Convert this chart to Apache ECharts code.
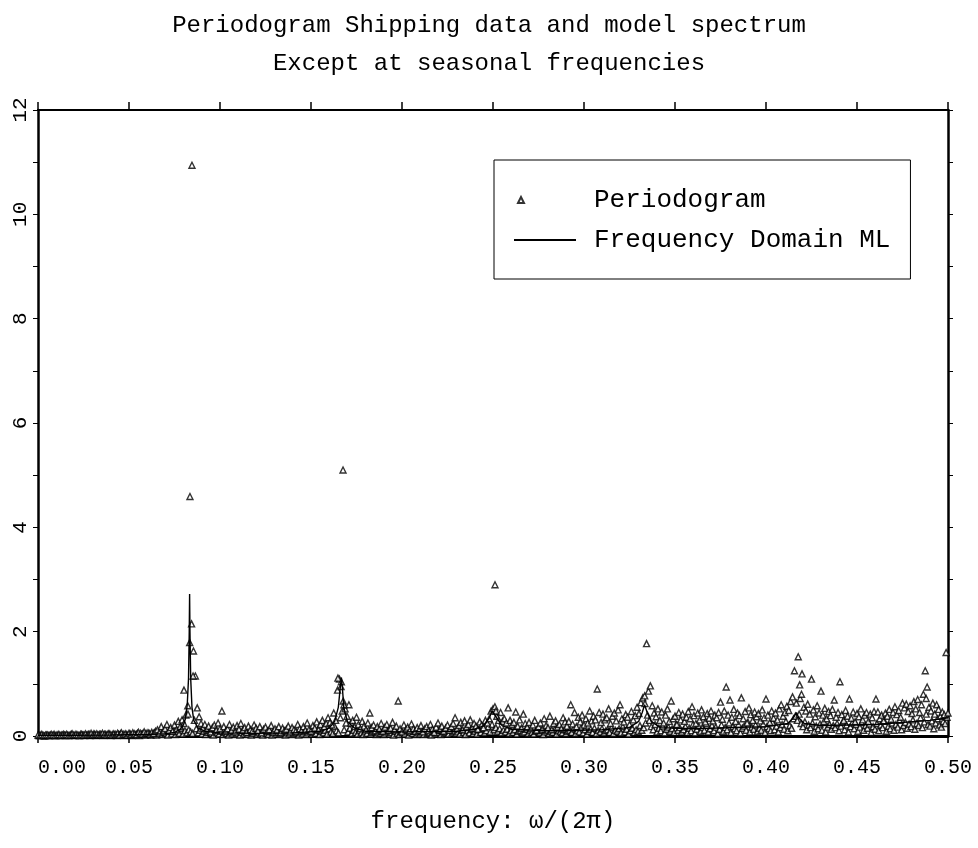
<!DOCTYPE html>
<html>
<head>
<meta charset="utf-8">
<script src="https://cdn.jsdelivr.net/npm/echarts@6/dist/echarts.min.js"></script>
<style>
  html, body { margin: 0; padding: 0; background: #fff; }
  #chart { width: 978px; height: 848px; }
</style>
</head>
<body>
<div id="chart"></div>
<script>
// periodogram on grid f = i/960 (upper points)
var periodogramA = [
  0.02,0.01,0.03,0.01,0.02,0.02,0.01,0.03,0.02,0.01,0.02,0.03,0.01,0.02,0.02,0.03,0.01,0.02,0.04,0.02,
  0.03,0.02,0.01,0.03,0.02,0.04,0.02,0.03,0.05,0.02,0.03,0.04,0.02,0.03,0.05,0.03,0.02,0.04,0.03,0.02,
  0.04,0.03,0.05,0.02,0.06,0.03,0.04,0.02,0.05,0.03,0.06,0.04,0.03,0.07,0.05,0.04,0.08,0.05,0.06,0.04,
  0.07,0.05,0.09,0.12,0.06,0.18,0.08,0.14,0.22,0.10,0.16,0.09,0.21,0.12,0.28,0.18,0.31,0.24,0.40,0.58,
  1.79,2.15,1.63,1.15,0.54,0.37,0.24,0.15,0.22,0.12,0.19,0.08,0.16,0.21,0.11,0.25,0.14,0.48,0.18,0.09,
  0.14,0.22,0.10,0.17,0.08,0.20,0.13,0.24,0.11,0.16,0.07,0.19,0.12,0.09,0.21,0.15,0.10,0.18,0.06,0.13,
  0.17,0.09,0.12,0.20,0.08,0.14,0.11,0.18,0.07,0.15,0.10,0.13,0.19,0.08,0.16,0.12,0.09,0.22,0.14,0.10,
  0.18,0.11,0.25,0.13,0.09,0.20,0.15,0.27,0.12,0.22,0.30,0.18,0.24,0.35,0.26,0.21,0.44,0.30,0.88,1.09,
  1.04,0.67,0.52,0.38,0.60,0.25,0.30,0.18,0.36,0.22,0.14,0.28,0.19,0.12,0.25,0.44,0.16,0.21,0.10,0.18,
  0.13,0.24,0.09,0.17,0.22,0.11,0.15,0.26,0.12,0.19,0.67,0.14,0.08,0.21,0.12,0.17,0.10,0.23,0.14,0.09,
  0.16,0.11,0.20,0.08,0.14,0.18,0.10,0.22,0.13,0.07,0.17,0.25,0.12,0.19,0.09,0.15,0.21,0.11,0.18,0.24,
  0.35,0.14,0.20,0.26,0.12,0.29,0.17,0.22,0.31,0.15,0.24,0.19,0.13,0.27,0.21,0.16,0.30,0.25,0.33,0.48,
  0.52,0.56,0.38,0.30,0.45,0.28,0.33,0.25,0.54,0.30,0.22,0.26,0.46,0.19,0.31,0.15,0.42,0.24,0.17,0.26,
  0.14,0.21,0.30,0.11,0.18,0.25,0.13,0.33,0.20,0.16,0.38,0.12,0.24,0.29,0.17,0.22,0.14,0.35,0.27,0.19,
  0.28,0.60,0.23,0.45,0.18,0.36,0.27,0.40,0.21,0.33,0.25,0.48,0.29,0.38,0.31,0.90,0.45,0.26,0.42,0.31,
  0.35,0.52,0.24,0.38,0.44,0.29,0.50,0.60,0.33,0.27,0.41,0.36,0.22,0.47,0.31,0.39,0.55,0.43,0.64,0.73,
  0.77,1.77,0.86,0.96,0.58,0.44,0.37,0.52,0.30,0.46,0.25,0.40,0.52,0.28,0.67,0.33,0.38,0.22,0.45,0.31,
  0.42,0.28,0.36,0.47,0.33,0.56,0.39,0.24,0.44,0.31,0.50,0.37,0.27,0.43,0.34,0.48,0.29,0.40,0.35,0.45,
  0.65,0.32,0.48,0.94,0.40,0.69,0.36,0.51,0.28,0.44,0.39,0.73,0.33,0.47,0.25,0.54,0.41,0.30,0.46,0.37,
  0.43,0.29,0.50,0.35,0.71,0.40,0.26,0.48,0.34,0.44,0.31,0.52,0.60,0.38,0.45,0.57,0.49,0.66,0.75,1.25,
  0.63,1.52,0.72,1.19,0.55,0.48,0.61,0.42,1.09,0.50,0.37,0.58,0.44,0.86,0.40,0.53,0.33,0.47,0.39,0.51,
  0.69,0.36,0.45,1.04,0.41,0.30,0.49,0.38,0.71,0.34,0.46,0.27,0.43,0.37,0.52,0.31,0.40,0.45,0.28,0.42,
  0.35,0.47,0.71,0.46,0.33,0.40,0.29,0.44,0.38,0.51,0.32,0.45,0.56,0.41,0.49,0.36,0.63,0.54,0.61,0.47,
  0.58,0.43,0.66,0.52,0.70,0.45,0.60,0.80,1.25,0.94,0.55,0.48,0.63,0.42,0.60,0.51,0.38,0.46,0.41,1.60,0.44
];

// periodogram on grid f = (i+0.5)/960 (lower points)
var periodogramB = [
  0.01,0.02,0.01,0.00,0.02,0.01,0.02,0.01,0.03,0.01,0.02,0.01,0.02,0.03,0.01,0.02,0.01,0.03,0.02,0.01,
  0.02,0.01,0.03,0.02,0.01,0.02,0.03,0.01,0.02,0.04,0.01,0.02,0.03,0.02,0.01,0.03,0.02,0.04,0.01,0.03,
  0.02,0.01,0.03,0.04,0.02,0.01,0.03,0.02,0.04,0.01,0.03,0.02,0.05,0.01,0.03,0.04,0.02,0.03,0.05,0.02,
  0.03,0.06,0.02,0.04,0.10,0.03,0.07,0.05,0.02,0.09,0.04,0.12,0.03,0.08,0.05,0.15,0.04,0.10,0.06,0.12,
  0.08,0.05,0.30,0.14,0.06,0.11,0.04,0.09,0.03,0.07,0.10,0.05,0.02,0.08,0.06,0.04,0.09,0.03,0.07,0.05,
  0.02,0.06,0.04,0.08,0.03,0.05,0.02,0.07,0.04,0.09,0.03,0.06,0.02,0.05,0.08,0.03,0.06,0.04,0.02,0.07,
  0.05,0.03,0.08,0.02,0.06,0.04,0.07,0.03,0.05,0.09,0.02,0.06,0.04,0.08,0.03,0.05,0.07,0.02,0.06,0.04,
  0.08,0.03,0.06,0.10,0.04,0.07,0.05,0.12,0.03,0.09,0.06,0.11,0.04,0.14,0.08,0.05,0.18,0.10,0.06,0.35,
  0.48,0.12,0.25,0.08,0.15,0.05,0.11,0.07,0.04,0.10,0.06,0.03,0.08,0.05,0.12,0.04,0.07,0.09,0.03,0.06,
  0.05,0.08,0.03,0.06,0.10,0.04,0.07,0.02,0.09,0.05,0.03,0.08,0.06,0.04,0.11,0.02,0.07,0.05,0.09,0.03,
  0.06,0.04,0.08,0.03,0.10,0.05,0.07,0.02,0.09,0.04,0.06,0.11,0.03,0.08,0.05,0.07,0.04,0.12,0.06,0.09,
  0.05,0.08,0.04,0.11,0.07,0.03,0.10,0.06,0.13,0.05,0.09,0.04,0.12,0.07,0.15,0.06,0.10,0.18,0.08,0.22,
  0.12,0.16,0.09,0.14,0.06,0.11,0.08,0.13,0.05,0.10,0.07,0.12,0.04,0.09,0.11,0.06,0.08,0.13,0.05,0.10,
  0.07,0.04,0.09,0.12,0.06,0.10,0.03,0.08,0.11,0.05,0.09,0.07,0.13,0.04,0.10,0.08,0.06,0.12,0.05,0.09,
  0.11,0.07,0.14,0.05,0.10,0.08,0.16,0.06,0.12,0.04,0.09,0.13,0.07,0.15,0.05,0.11,0.08,0.14,0.06,0.10,
  0.12,0.07,0.16,0.05,0.11,0.09,0.14,0.06,0.18,0.08,0.13,0.04,0.10,0.15,0.07,0.12,0.09,0.20,0.11,0.16,
  0.25,0.40,0.30,0.18,0.12,0.22,0.08,0.15,0.10,0.19,0.06,0.13,0.17,0.09,0.14,0.07,0.21,0.11,0.16,0.08,
  0.12,0.18,0.07,0.15,0.10,0.22,0.06,0.13,0.19,0.09,0.16,0.11,0.24,0.08,0.14,0.20,0.10,0.17,0.05,0.13,
  0.21,0.09,0.16,0.12,0.25,0.07,0.18,0.14,0.10,0.22,0.06,0.15,0.19,0.11,0.26,0.08,0.17,0.13,0.21,0.09,
  0.15,0.11,0.23,0.07,0.18,0.14,0.10,0.26,0.12,0.19,0.08,0.16,0.22,0.13,0.28,0.10,0.20,0.15,0.33,0.38,
  0.30,0.42,0.24,0.18,0.27,0.12,0.21,0.16,0.25,0.09,0.19,0.14,0.23,0.11,0.28,0.08,0.17,0.22,0.13,0.20,
  0.16,0.24,0.10,0.19,0.27,0.12,0.21,0.08,0.18,0.25,0.14,0.22,0.09,0.17,0.26,0.11,0.20,0.15,0.23,0.07,
  0.18,0.13,0.24,0.10,0.21,0.16,0.28,0.09,0.19,0.14,0.25,0.11,0.22,0.17,0.30,0.12,0.20,0.26,0.15,0.23,
  0.18,0.31,0.13,0.24,0.20,0.35,0.16,0.27,0.42,0.22,0.19,0.29,0.14,0.25,0.33,0.21,0.17,0.28,0.24,0.36
];

// extra periodogram points near the seasonal peaks
var peakFreqs  = [0.0846, 0.0835, 0.0824, 0.0852, 0.0802, 0.1676, 0.1648, 0.1665, 0.1681, 0.2511, 0.2516, 0.3335, 0.4185, 0.4195, 0.4880];
var peakValues = [10.94,  4.59,   0.42,   1.15,   0.88,   5.10,   1.11,   0.95,   0.60,   2.90,   0.48,   0.62,   0.98,   0.80,   0.72];

// frequency domain ML model spectrum
var modelFreqs = [0.000,0.020,0.040,0.060,0.070,0.075,0.078,0.080,0.081,0.082,0.0827,0.0831,0.0833,0.0835,0.0839,0.0846,0.0856,0.088,0.092,0.100,
  0.120,0.140,0.155,0.160,0.163,0.165,0.166,0.1667,0.1673,0.168,0.170,0.174,0.180,0.200,0.230,0.240,0.245,0.248,0.2495,0.250,
  0.2505,0.252,0.255,0.260,0.280,0.310,0.325,0.330,0.332,0.3333,0.3347,0.337,0.342,0.360,0.400,0.412,0.415,0.4167,0.418,0.421,
  0.430,0.460,0.490,0.500];
var modelValues = [0.015,0.015,0.02,0.03,0.045,0.07,0.12,0.22,0.33,0.6,1.1,2.0,2.72,2.0,1.1,0.55,0.3,0.15,0.09,0.06,
  0.05,0.06,0.09,0.15,0.28,0.55,0.9,1.12,0.9,0.55,0.28,0.15,0.09,0.08,0.09,0.13,0.2,0.35,0.48,0.5,
  0.48,0.35,0.2,0.13,0.1,0.12,0.16,0.28,0.45,0.6,0.45,0.28,0.16,0.14,0.18,0.24,0.35,0.45,0.35,0.24,
  0.2,0.22,0.3,0.35];

var xTicks = ['0.00','0.05','0.10','0.15','0.20','0.25','0.30','0.35','0.40','0.45','0.50'];

var FONT = 'Liberation Mono';

var dataA = periodogramA.map(function (v, i) { return [i / 960, v]; });
var dataB = periodogramB.map(function (v, i) { return [(i + 0.5) / 960, v]; });
var dataPeak = peakFreqs.map(function (f, i) { return [f, peakValues[i]]; });
var dataModel = modelFreqs.map(function (f, i) { return [f, modelValues[i]]; });

var triStyle = { color: '#fff', borderColor: '#000', borderWidth: 1.4 };

var option = {
  animation: false,
  backgroundColor: '#fff',
  title: {
    text: 'Periodogram Shipping data and model spectrum\nExcept at seasonal frequencies',
    left: 'center',
    top: 2,
    textStyle: { fontFamily: FONT, fontSize: 24, fontWeight: 'normal', color: '#000', lineHeight: 38 }
  },
  legend: {
    orient: 'vertical',
    left: 494,
    top: 160,
    padding: [27, 20, 26, 19],
    itemGap: 14,
    itemWidth: 62,
    itemHeight: 14,
    borderColor: '#000',
    borderWidth: 1,
    textStyle: { fontFamily: FONT, fontSize: 26, color: '#000', padding: [0, 0, 0, 13] },
    data: [
      { name: 'Periodogram', icon: 'path://M4 10L7 4L10 10Z M0 0 M62 14' },
      { name: 'Frequency Domain ML', itemStyle: { opacity: 0 } }
    ]
  },
  grid: { left: 38, right: 30, top: 110, bottom: 112, containLabel: false },
  xAxis: [
    {
      type: 'value', min: 0, max: 0.5, interval: 0.05, position: 'bottom',
      name: 'frequency: ω/(2π)', nameLocation: 'middle', nameGap: 74,
      nameTextStyle: { fontFamily: FONT, fontSize: 24, color: '#000' },
      axisLine: { show: true, onZero: false, lineStyle: { color: '#000', width: 3 } },
      axisTick: { show: true, inside: false, length: 7, lineStyle: { color: '#000', width: 1.5 } },
      axisLabel: {
        margin: 22, fontFamily: FONT, fontSize: 20, color: '#000', alignMinLabel: 'left',
        formatter: function (v) { return xTicks[Math.round(v / 0.05)]; }
      },
      splitLine: { show: false }
    },
    {
      type: 'value', min: 0, max: 0.5, interval: 0.05, position: 'top',
      axisLine: { show: true, onZero: false, lineStyle: { color: '#000', width: 2 } },
      axisTick: { show: true, inside: false, length: 8, lineStyle: { color: '#000', width: 1.5 } },
      axisLabel: { show: false },
      splitLine: { show: false }
    }
  ],
  yAxis: [
    {
      type: 'value', min: 0, max: 12, interval: 1, position: 'left',
      axisLine: { show: true, onZero: false, lineStyle: { color: '#000', width: 2.5 } },
      axisTick: { show: true, inside: false, length: 5, lineStyle: { color: '#000', width: 1 } },
      axisLabel: {
        rotate: 90, margin: 7, fontFamily: FONT, fontSize: 21, color: '#000',
        formatter: function (v) { return v % 2 === 0 ? String(v) : ''; }
      },
      splitLine: { show: false }
    },
    {
      type: 'value', min: 0, max: 12, interval: 1, position: 'right',
      axisLine: { show: true, onZero: false, lineStyle: { color: '#000', width: 2.5 } },
      axisTick: { show: true, inside: false, length: 5, lineStyle: { color: '#000', width: 1 } },
      axisLabel: { show: false },
      splitLine: { show: false }
    }
  ],
  series: [
    {
      name: 'Periodogram', type: 'scatter', symbol: 'triangle', symbolSize: 6,
      itemStyle: triStyle, data: dataB
    },
    {
      name: 'Periodogram', type: 'scatter', symbol: 'triangle', symbolSize: 6,
      itemStyle: triStyle, data: dataA
    },
    {
      name: 'Periodogram', type: 'scatter', symbol: 'triangle', symbolSize: 6,
      itemStyle: triStyle, data: dataPeak
    },
    {
      name: 'Frequency Domain ML', type: 'line', symbol: 'none', smooth: false,
      lineStyle: { color: '#000', width: 1.4 }, itemStyle: { color: '#000' },
      data: dataModel, z: 3
    }
  ]
};

var myChart = echarts.init(document.getElementById('chart'));
myChart.setOption(option);
</script>
</body>
</html>
